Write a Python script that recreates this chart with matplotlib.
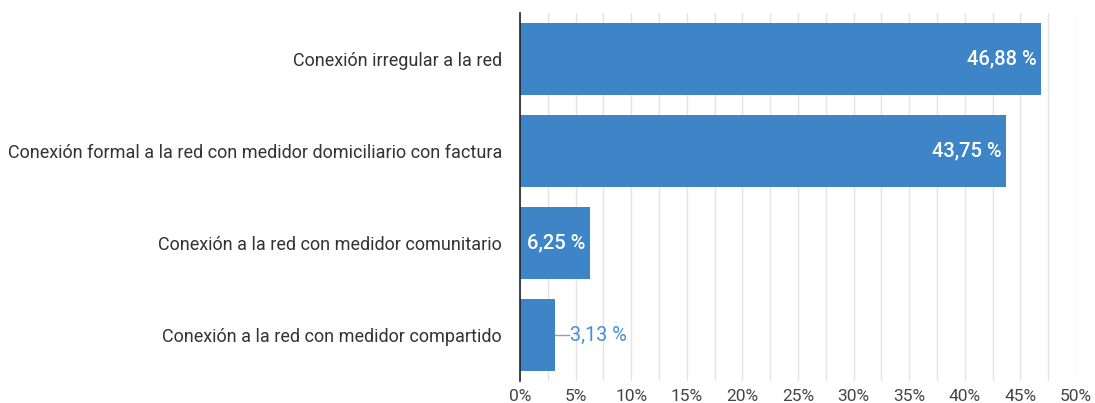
import matplotlib.pyplot as plt
from matplotlib.ticker import MultipleLocator, FuncFormatter

plt.rcParams['font.family'] = ['Roboto', 'DejaVu Sans']

categorias = ['Conexión irregular a la red',
              'Conexión formal a la red con medidor domiciliario con factura',
              'Conexión a la red con medidor comunitario',
              'Conexión a la red con medidor compartido']
valores = [46.88, 43.75, 6.25, 3.13]
etiquetas = ['46,88 %', '43,75 %', '6,25 %', '3,13 %']

color_barra = '#3d85c6'

fig = plt.figure(figsize=(10.95, 4.03), dpi=100)
ax = fig.add_axes([0.4749, 0.0546, 0.5077, 0.9131])

y = list(range(len(valores)))
ax.barh(y, valores, height=0.79, color=color_barra, zorder=3)
ax.set_ylim(3.5, -0.5)
ax.set_xlim(0, 50)
ax.set_yticks(y)
ax.set_yticklabels(categorias, fontsize=13, color='#333333')
ax.xaxis.set_major_locator(MultipleLocator(5))
ax.xaxis.set_minor_locator(MultipleLocator(2.5))
ax.xaxis.set_major_formatter(FuncFormatter(lambda v, p: '%d%%' % v))
ax.tick_params(axis='x', labelsize=12.5, colors='#444444', length=0, pad=6, which='both')
ax.tick_params(axis='y', length=0, pad=13)
ax.grid(axis='x', which='both', color='#e4e4e4', linewidth=1, zorder=0)
for s in ['top', 'right', 'bottom']:
    ax.spines[s].set_visible(False)
ax.spines['left'].set_color('#222222')
ax.spines['left'].set_linewidth(1.2)
ax.spines['left'].set_zorder(4)

for i, (v, t) in enumerate(zip(valores, etiquetas)):
    if v > 5:
        ax.text(v - 0.4, i, t, ha='right', va='center', color='white',
                fontsize=14.5, fontweight='medium', zorder=5)
    else:
        ax.plot([v, v + 1.3], [i, i], color='#9e9e9e', linewidth=1, zorder=4)
        ax.text(v + 1.4, i, t, ha='left', va='center', color='#4a8fd6',
                fontsize=14.3, zorder=5)

plt.savefig('out.png', dpi=100)
